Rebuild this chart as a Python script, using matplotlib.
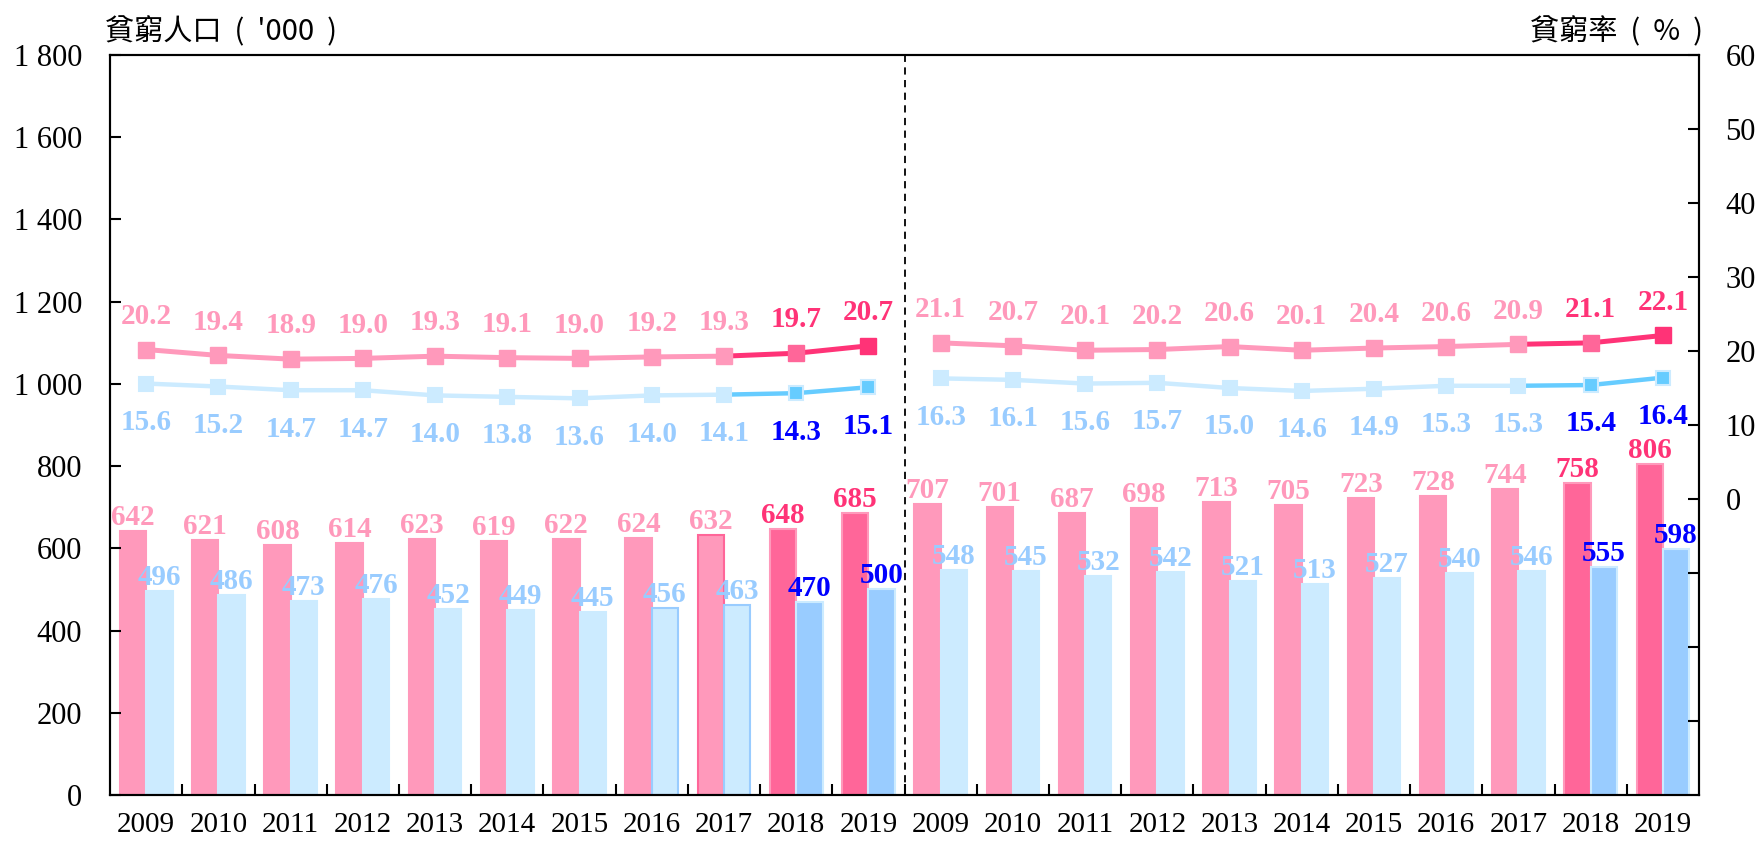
import numpy as np
import matplotlib.pyplot as plt

plt.rcParams['font.family'] = ['Liberation Serif', 'DejaVu Serif']

years = [str(y) for y in range(2009, 2020)]

# two panels side by side, 2009-2019 each
pop_a_pink = [642, 621, 608, 614, 623, 619, 622, 624, 632, 648, 685]
pop_a_blue = [496, 486, 473, 476, 452, 449, 445, 456, 463, 470, 500]
rate_a_pink = [20.2, 19.4, 18.9, 19.0, 19.3, 19.1, 19.0, 19.2, 19.3, 19.7, 20.7]
rate_a_blue = [15.6, 15.2, 14.7, 14.7, 14.0, 13.8, 13.6, 14.0, 14.1, 14.3, 15.1]

pop_b_pink = [707, 701, 687, 698, 713, 705, 723, 728, 744, 758, 806]
pop_b_blue = [548, 545, 532, 542, 521, 513, 527, 540, 546, 555, 598]
rate_b_pink = [21.1, 20.7, 20.1, 20.2, 20.6, 20.1, 20.4, 20.6, 20.9, 21.1, 22.1]
rate_b_blue = [16.3, 16.1, 15.6, 15.7, 15.0, 14.6, 14.9, 15.3, 15.3, 15.4, 16.4]

PINK_L, PINK_M, PINK_D = '#FF99BB', '#FF6699', '#FF3377'
BLUE_L, BLUE_M, BLUE_D, BLUE_T = '#CCEBFF', '#99CCFF', '#66CCFF', '#0000FF'

fig = plt.figure(figsize=(17.61, 8.41), dpi=100)
ax = fig.add_axes([0.0625, 0.0547, 0.9023, 0.8799])
ax2 = ax.twinx()

n = len(years)
w = 0.365
lblfont = dict(fontsize=21, fontweight='bold')

for g, (pp, pb, rp, rb) in enumerate([(pop_a_pink, pop_a_blue, rate_a_pink, rate_a_blue),
                                      (pop_b_pink, pop_b_blue, rate_b_pink, rate_b_blue)]):
    x = np.arange(n) + g * n
    for i in range(n):
        recent = i >= n - 2
        # bars
        pc = PINK_M if recent else PINK_L
        bc = BLUE_M if recent else BLUE_L
        pe = PINK_L
        be = BLUE_L
        if g == 0 and i == 8:
            pe = PINK_M
        if g == 0 and i in (7, 8):
            be = BLUE_M
        ax.bar(x[i] - w / 2, pp[i], w, color=pc, edgecolor=pe, linewidth=1.5)
        ax.bar(x[i] + w / 2, pb[i], w, color=bc, edgecolor=be, linewidth=1.5)
        ax.annotate(str(pp[i]), (x[i] - w / 2, pp[i]), xytext=(0, 0),
                    textcoords='offset points', ha='center', va='bottom',
                    color=PINK_D if recent else PINK_L, **lblfont)
        ax.annotate(str(pb[i]), (x[i] + w / 2, pb[i]), xytext=(0, 0),
                    textcoords='offset points', ha='center', va='bottom',
                    color=BLUE_T if recent else BLUE_M, **lblfont)

    # rate lines: older years light, last segment highlighted
    ax2.plot(x[:9], rp[:9], color=PINK_L, lw=3.6, zorder=3)
    ax2.plot(x[8:], rp[8:], color=PINK_D, lw=3.6, zorder=3)
    ax2.plot(x[:9], rb[:9], color=BLUE_L, lw=3.2, zorder=3)
    ax2.plot(x[8:], rb[8:], color=BLUE_D, lw=3.2, zorder=3)
    for i in range(n):
        recent = i >= n - 2
        mc = (PINK_M if i == n - 2 else PINK_D) if recent else PINK_L
        ax2.plot(x[i], rp[i], 's', ms=12, color=mc, mec=PINK_L if not recent else mc,
                 mew=1, zorder=4)
        ax2.plot(x[i], rb[i], 's', ms=10.5, color=BLUE_D if recent else BLUE_L,
                 mec=BLUE_L, mew=1.5, zorder=4)
        ax2.annotate(f'{rp[i]:.1f}', (x[i], rp[i]), xytext=(0, 24),
                     textcoords='offset points', ha='center', va='center',
                     color=PINK_D if recent else PINK_L, **lblfont)
        ax2.annotate(f'{rb[i]:.1f}', (x[i], rb[i]), xytext=(0, -28),
                     textcoords='offset points', ha='center', va='center',
                     color=BLUE_T if recent else BLUE_M, **lblfont)

ax.axvline(n - 0.5, color='black', ls=(0, (4, 3)), lw=1.3)

ax.set_xlim(-0.5, 2 * n - 0.5)
ax.set_ylim(0, 1800)
ax2.set_ylim(-40, 60)

yt = np.arange(0, 1801, 200)
ax.set_yticks(yt)
ax.set_yticklabels([f'{v:,}'.replace(',', ' ') for v in yt])
rt = np.arange(-30, 61, 10)
ax2.set_yticks(rt)
ax2.set_yticklabels(['' if v < 0 else str(v) for v in rt])

ax.set_xticks(np.arange(2 * n))
ax.set_xticklabels(years + years)
ax.set_xticks(np.arange(0.5, 2 * n - 1, 1), minor=True)
ax.tick_params(axis='x', which='major', length=0, labelsize=21, pad=12)
ax.tick_params(axis='x', which='minor', direction='in', length=8, width=1.5)
ax.tick_params(axis='y', direction='in', length=8, width=1.5, labelsize=22, pad=20)
ax2.tick_params(axis='y', direction='in', length=8, width=1.5, labelsize=22, pad=19)

for a in (ax, ax2):
    for s in a.spines.values():
        s.set_linewidth(1.5)

cjk = ['Noto Sans CJK TC', 'DejaVu Sans']
fig.text(0.0596, 0.962, "貧窮人口  (  '000  )", family=cjk, fontsize=21, ha='left', va='center')
fig.text(0.967, 0.962, '貧窮率  (  %  )', family=cjk, fontsize=21, ha='right', va='center')

fig.savefig('out.png', dpi=100)
